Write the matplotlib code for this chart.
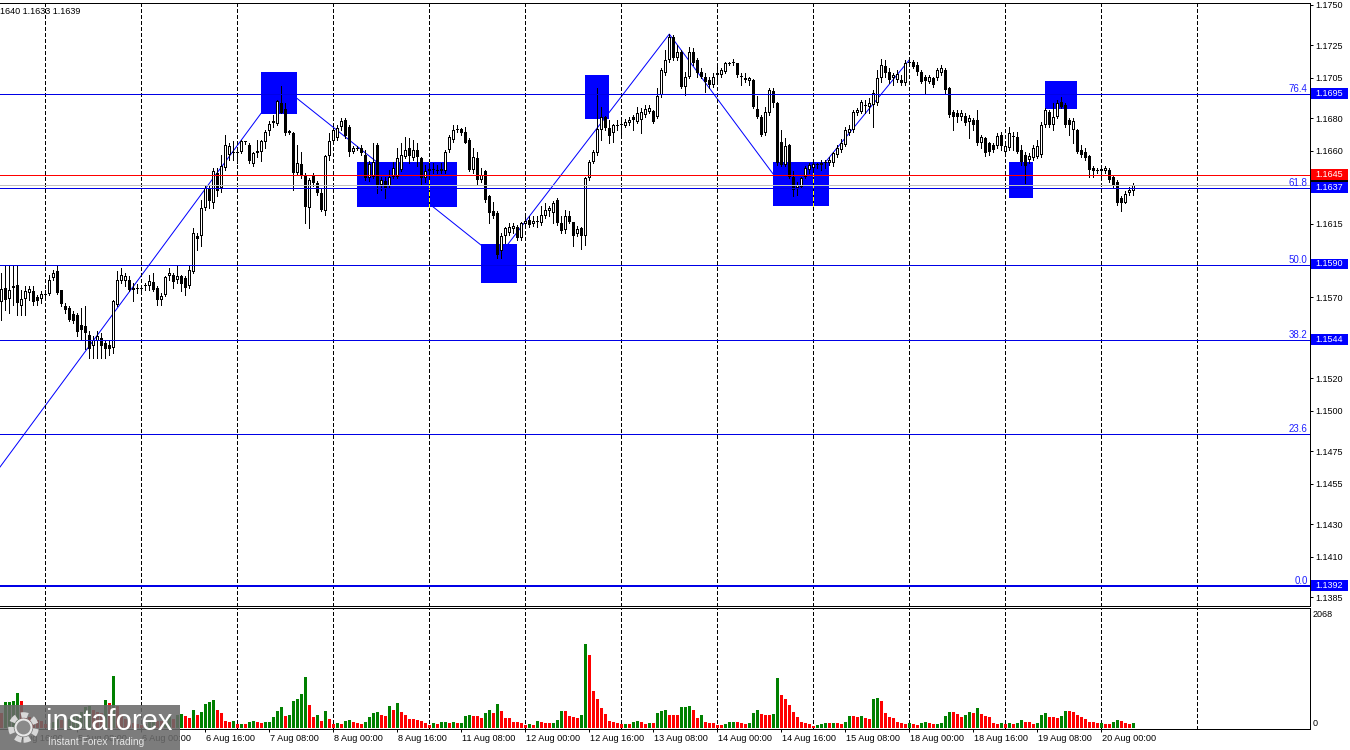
import matplotlib
matplotlib.use("Agg")
import matplotlib.pyplot as plt
from matplotlib.patches import Rectangle, Circle
from matplotlib.transforms import blended_transform_factory, offset_copy
import numpy as np

plt.rcParams['font.family'] = ['Liberation Sans', 'DejaVu Sans']

# ---------------- data (EURUSD H1, one value per bar) ----------------
bar_open = [
    1.15670, 1.15756, 1.15688, 1.15770, 1.15772, 1.15643, 1.15690, 1.15725, 1.15739, 1.15698,
    1.15690, 1.15715, 1.15719, 1.15817, 1.15858, 1.15741, 1.15647, 1.15633, 1.15596, 1.15592,
    1.15530, 1.15520, 1.15469, 1.15397, 1.15428, 1.15448, 1.15418, 1.15403, 1.15387, 1.15653,
    1.15797, 1.15797, 1.15807, 1.15756, 1.15754, 1.15750, 1.15766, 1.15766, 1.15793, 1.15754,
    1.15680, 1.15715, 1.15828, 1.15838, 1.15807, 1.15832, 1.15817, 1.15766, 1.15854, 1.16078,
    1.16074, 1.16248, 1.16371, 1.16279, 1.16463, 1.16371, 1.16494, 1.16576, 1.16596, 1.16586,
    1.16596, 1.16652, 1.16637, 1.16520, 1.16586, 1.16596, 1.16652, 1.16723, 1.16771, 1.16766,
    1.16894, 1.16857, 1.16725, 1.16713, 1.16463, 1.16520, 1.16453, 1.16248, 1.16449, 1.16402,
    1.16340, 1.16227, 1.16566, 1.16658, 1.16678, 1.16750, 1.16791, 1.16750, 1.16596, 1.16617,
    1.16617, 1.16576, 1.16432, 1.16442, 1.16637, 1.16391, 1.16412, 1.16381, 1.16442, 1.16442,
    1.16483, 1.16565, 1.16616, 1.16555, 1.16606, 1.16555, 1.16432, 1.16473, 1.16487, 1.16483,
    1.16479, 1.16473, 1.16606, 1.16667, 1.16729, 1.16733, 1.16719, 1.16667, 1.16483, 1.16555,
    1.16422, 1.16473, 1.16319, 1.16227, 1.16216, 1.15981, 1.16073, 1.16094, 1.16118, 1.16134,
    1.16063, 1.16151, 1.16175, 1.16151, 1.16165, 1.16155, 1.16200, 1.16227, 1.16216, 1.16299,
    1.16155, 1.16114, 1.16196, 1.16159, 1.16089, 1.16124, 1.16073, 1.16432, 1.16534, 1.16585,
    1.16729, 1.16807, 1.16739, 1.16709, 1.16755, 1.16760, 1.16754, 1.16774, 1.16811, 1.16780,
    1.16790, 1.16821, 1.16842, 1.16846, 1.16807, 1.16944, 1.17078, 1.17160, 1.17303, 1.17170,
    1.17211, 1.16995, 1.17057, 1.17211, 1.17160, 1.17088, 1.17057, 1.17037, 1.17006, 1.17067,
    1.17067, 1.17088, 1.17137, 1.17139, 1.17139, 1.17063, 1.17047, 1.17033, 1.17037, 1.16856,
    1.16811, 1.16708, 1.16832, 1.16971, 1.16893, 1.16657, 1.16514, 1.16637, 1.16442, 1.16370,
    1.16380, 1.16442, 1.16483, 1.16493, 1.16517, 1.16514, 1.16524, 1.16524, 1.16524, 1.16575,
    1.16606, 1.16637, 1.16708, 1.16729, 1.16832, 1.16842, 1.16880, 1.16872, 1.16883, 1.16893,
    1.17047, 1.17123, 1.17088, 1.17047, 1.17037, 1.17037, 1.17016, 1.17139, 1.17149, 1.17129,
    1.17088, 1.17053, 1.17026, 1.17047, 1.17047, 1.17078, 1.17098, 1.16985, 1.16842, 1.16832,
    1.16811, 1.16815, 1.16780, 1.16790, 1.16790, 1.16647, 1.16678, 1.16647, 1.16637, 1.16627,
    1.16698, 1.16596, 1.16616, 1.16692, 1.16688, 1.16606, 1.16575, 1.16545, 1.16555, 1.16561,
    1.16575, 1.16760, 1.16842, 1.16760, 1.16811, 1.16903, 1.16883, 1.16790, 1.16729, 1.16729,
    1.16606, 1.16596, 1.16569, 1.16493, 1.16475, 1.16473, 1.16473, 1.16483, 1.16438, 1.16411,
    1.16309, 1.16282, 1.16340, 1.16350,
]
bar_high = [
    1.15848, 1.15899, 1.15899, 1.15899, 1.15889, 1.15746, 1.15770, 1.15766, 1.15766, 1.15715,
    1.15735, 1.15746, 1.15838, 1.15868, 1.15889, 1.15746, 1.15664, 1.15643, 1.15612, 1.15602,
    1.15633, 1.15643, 1.15489, 1.15458, 1.15489, 1.15479, 1.15438, 1.15438, 1.15684, 1.15858,
    1.15879, 1.15848, 1.15828, 1.15787, 1.15782, 1.15776, 1.15787, 1.15838, 1.15848, 1.15766,
    1.15725, 1.15828, 1.15879, 1.15848, 1.15899, 1.15838, 1.15828, 1.15899, 1.16125, 1.16094,
    1.16299, 1.16391, 1.16391, 1.16494, 1.16494, 1.16576, 1.16699, 1.16648, 1.16658, 1.16611,
    1.16668, 1.16658, 1.16648, 1.16596, 1.16668, 1.16668, 1.16730, 1.16781, 1.16822, 1.16914,
    1.17000, 1.16894, 1.16730, 1.16719, 1.16637, 1.16596, 1.16463, 1.16432, 1.16463, 1.16412,
    1.16371, 1.16576, 1.16709, 1.16740, 1.16760, 1.16801, 1.16801, 1.16760, 1.16631, 1.16631,
    1.16637, 1.16607, 1.16535, 1.16647, 1.16647, 1.16442, 1.16442, 1.16483, 1.16534, 1.16616,
    1.16647, 1.16688, 1.16678, 1.16667, 1.16647, 1.16565, 1.16514, 1.16524, 1.16524, 1.16514,
    1.16524, 1.16606, 1.16698, 1.16760, 1.16760, 1.16739, 1.16749, 1.16678, 1.16616, 1.16596,
    1.16493, 1.16483, 1.16329, 1.16288, 1.16227, 1.16094, 1.16134, 1.16155, 1.16155, 1.16145,
    1.16165, 1.16196, 1.16196, 1.16196, 1.16196, 1.16258, 1.16278, 1.16258, 1.16294, 1.16309,
    1.16196, 1.16237, 1.16227, 1.16165, 1.16139, 1.16134, 1.16442, 1.16544, 1.16606, 1.16985,
    1.16873, 1.16815, 1.16790, 1.16766, 1.16790, 1.16790, 1.16795, 1.16807, 1.16821, 1.16873,
    1.16862, 1.16883, 1.16883, 1.16852, 1.16985, 1.17108, 1.17221, 1.17319, 1.17313, 1.17252,
    1.17221, 1.17088, 1.17242, 1.17231, 1.17170, 1.17108, 1.17078, 1.17057, 1.17078, 1.17139,
    1.17108, 1.17149, 1.17149, 1.17164, 1.17143, 1.17078, 1.17078, 1.17057, 1.17041, 1.16938,
    1.16821, 1.16872, 1.16985, 1.16985, 1.16903, 1.16729, 1.16678, 1.16643, 1.16473, 1.16411,
    1.16442, 1.16504, 1.16524, 1.16534, 1.16528, 1.16545, 1.16545, 1.16565, 1.16596, 1.16637,
    1.16672, 1.16745, 1.16760, 1.16852, 1.16862, 1.16913, 1.16913, 1.16924, 1.16975, 1.17098,
    1.17164, 1.17160, 1.17108, 1.17078, 1.17098, 1.17067, 1.17160, 1.17160, 1.17160, 1.17149,
    1.17098, 1.17067, 1.17067, 1.17057, 1.17108, 1.17129, 1.17108, 1.16995, 1.16852, 1.16852,
    1.16852, 1.16832, 1.16821, 1.16801, 1.16852, 1.16698, 1.16684, 1.16657, 1.16647, 1.16708,
    1.16719, 1.16637, 1.16750, 1.16719, 1.16719, 1.16637, 1.16596, 1.16586, 1.16637, 1.16668,
    1.16780, 1.16862, 1.16852, 1.16893, 1.16913, 1.16934, 1.16893, 1.16801, 1.16801, 1.16733,
    1.16637, 1.16616, 1.16575, 1.16504, 1.16493, 1.16504, 1.16504, 1.16493, 1.16446, 1.16421,
    1.16319, 1.16350, 1.16380, 1.16400,
]
bar_low = [
    1.15561, 1.15623, 1.15602, 1.15653, 1.15592, 1.15592, 1.15592, 1.15684, 1.15653, 1.15653,
    1.15664, 1.15694, 1.15715, 1.15807, 1.15721, 1.15643, 1.15602, 1.15551, 1.15541, 1.15458,
    1.15438, 1.15377, 1.15325, 1.15325, 1.15325, 1.15325, 1.15325, 1.15346, 1.15356, 1.15643,
    1.15787, 1.15766, 1.15735, 1.15674, 1.15725, 1.15735, 1.15746, 1.15746, 1.15735, 1.15653,
    1.15653, 1.15705, 1.15807, 1.15756, 1.15787, 1.15735, 1.15715, 1.15756, 1.15848, 1.15992,
    1.16012, 1.16238, 1.16248, 1.16248, 1.16320, 1.16344, 1.16484, 1.16545, 1.16545, 1.16525,
    1.16586, 1.16643, 1.16525, 1.16504, 1.16565, 1.16535, 1.16617, 1.16699, 1.16750, 1.16760,
    1.16832, 1.16699, 1.16705, 1.16361, 1.16453, 1.16432, 1.16156, 1.16125, 1.16385, 1.16330,
    1.16227, 1.16207, 1.16545, 1.16648, 1.16668, 1.16730, 1.16678, 1.16566, 1.16586, 1.16607,
    1.16576, 1.16422, 1.16412, 1.16432, 1.16340, 1.16360, 1.16309, 1.16370, 1.16432, 1.16432,
    1.16473, 1.16555, 1.16524, 1.16544, 1.16504, 1.16391, 1.16411, 1.16442, 1.16463, 1.16463,
    1.16463, 1.16463, 1.16596, 1.16657, 1.16719, 1.16698, 1.16647, 1.16473, 1.16463, 1.16391,
    1.16411, 1.16288, 1.16155, 1.16186, 1.15940, 1.15940, 1.16032, 1.16083, 1.16094, 1.16053,
    1.16053, 1.16134, 1.16134, 1.16139, 1.16134, 1.16145, 1.16186, 1.16196, 1.16155, 1.16145,
    1.16094, 1.16094, 1.16155, 1.16016, 1.16073, 1.15995, 1.16022, 1.16422, 1.16524, 1.16575,
    1.16667, 1.16729, 1.16647, 1.16657, 1.16729, 1.16688, 1.16750, 1.16760, 1.16729, 1.16770,
    1.16713, 1.16811, 1.16831, 1.16770, 1.16801, 1.16934, 1.17067, 1.17149, 1.17160, 1.17160,
    1.16985, 1.16944, 1.17047, 1.17129, 1.17057, 1.17047, 1.16965, 1.16985, 1.16995, 1.17016,
    1.17057, 1.17078, 1.17129, 1.17129, 1.17057, 1.17006, 1.17026, 1.17006, 1.16862, 1.16801,
    1.16692, 1.16698, 1.16821, 1.16872, 1.16514, 1.16504, 1.16504, 1.16432, 1.16319, 1.16329,
    1.16370, 1.16432, 1.16462, 1.16483, 1.16493, 1.16483, 1.16493, 1.16514, 1.16504, 1.16565,
    1.16596, 1.16627, 1.16698, 1.16719, 1.16821, 1.16832, 1.16832, 1.16832, 1.16750, 1.16883,
    1.17026, 1.17057, 1.17016, 1.17006, 1.17026, 1.17006, 1.17006, 1.17129, 1.17108, 1.17067,
    1.17016, 1.16955, 1.17016, 1.16995, 1.17037, 1.17067, 1.16955, 1.16811, 1.16729, 1.16780,
    1.16790, 1.16760, 1.16678, 1.16729, 1.16637, 1.16616, 1.16569, 1.16575, 1.16596, 1.16616,
    1.16606, 1.16586, 1.16606, 1.16606, 1.16586, 1.16514, 1.16401, 1.16524, 1.16545, 1.16555,
    1.16565, 1.16750, 1.16750, 1.16729, 1.16801, 1.16862, 1.16750, 1.16698, 1.16647, 1.16586,
    1.16565, 1.16545, 1.16442, 1.16442, 1.16462, 1.16442, 1.16462, 1.16411, 1.16370, 1.16268,
    1.16227, 1.16278, 1.16329, 1.16330,
]
bar_close = [
    1.15752, 1.15684, 1.15746, 1.15754, 1.15664, 1.15688, 1.15739, 1.15750, 1.15670, 1.15674,
    1.15719, 1.15719, 1.15807, 1.15848, 1.15725, 1.15657, 1.15618, 1.15561, 1.15555, 1.15483,
    1.15495, 1.15479, 1.15381, 1.15438, 1.15458, 1.15397, 1.15381, 1.15381, 1.15674, 1.15807,
    1.15838, 1.15832, 1.15746, 1.15746, 1.15750, 1.15754, 1.15776, 1.15797, 1.15746, 1.15684,
    1.15709, 1.15821, 1.15848, 1.15791, 1.15832, 1.15780, 1.15756, 1.15868, 1.16094, 1.16057,
    1.16248, 1.16371, 1.16289, 1.16477, 1.16350, 1.16508, 1.16637, 1.16631, 1.16586, 1.16590,
    1.16658, 1.16656, 1.16535, 1.16586, 1.16602, 1.16658, 1.16719, 1.16766, 1.16781, 1.16904,
    1.16836, 1.16713, 1.16713, 1.16463, 1.16525, 1.16443, 1.16254, 1.16418, 1.16402, 1.16340,
    1.16234, 1.16566, 1.16658, 1.16730, 1.16740, 1.16781, 1.16689, 1.16590, 1.16617, 1.16613,
    1.16586, 1.16432, 1.16520, 1.16534, 1.16391, 1.16422, 1.16364, 1.16442, 1.16493, 1.16555,
    1.16575, 1.16606, 1.16569, 1.16606, 1.16565, 1.16432, 1.16473, 1.16487, 1.16483, 1.16479,
    1.16487, 1.16596, 1.16684, 1.16729, 1.16733, 1.16709, 1.16651, 1.16483, 1.16565, 1.16422,
    1.16452, 1.16299, 1.16216, 1.16200, 1.15960, 1.16077, 1.16124, 1.16134, 1.16139, 1.16063,
    1.16155, 1.16171, 1.16145, 1.16171, 1.16169, 1.16206, 1.16237, 1.16247, 1.16282, 1.16155,
    1.16104, 1.16196, 1.16165, 1.16073, 1.16118, 1.16073, 1.16432, 1.16534, 1.16596, 1.16733,
    1.16811, 1.16739, 1.16692, 1.16760, 1.16762, 1.16766, 1.16780, 1.16790, 1.16790, 1.16831,
    1.16842, 1.16856, 1.16862, 1.16780, 1.16938, 1.17098, 1.17160, 1.17303, 1.17170, 1.17211,
    1.16995, 1.17057, 1.17211, 1.17139, 1.17078, 1.17057, 1.17026, 1.17006, 1.17057, 1.17078,
    1.17098, 1.17139, 1.17141, 1.17147, 1.17067, 1.17057, 1.17037, 1.17047, 1.16873, 1.16811,
    1.16698, 1.16842, 1.16975, 1.16893, 1.16524, 1.16514, 1.16631, 1.16442, 1.16360, 1.16391,
    1.16432, 1.16493, 1.16514, 1.16520, 1.16514, 1.16528, 1.16534, 1.16545, 1.16586, 1.16620,
    1.16647, 1.16729, 1.16733, 1.16842, 1.16852, 1.16903, 1.16877, 1.16897, 1.16955, 1.17047,
    1.17129, 1.17078, 1.17037, 1.17067, 1.17073, 1.17016, 1.17139, 1.17143, 1.17118, 1.17088,
    1.17026, 1.17032, 1.17057, 1.17006, 1.17098, 1.17108, 1.16975, 1.16821, 1.16811, 1.16811,
    1.16832, 1.16770, 1.16801, 1.16760, 1.16647, 1.16684, 1.16586, 1.16596, 1.16606, 1.16692,
    1.16627, 1.16631, 1.16708, 1.16688, 1.16596, 1.16534, 1.16504, 1.16569, 1.16616, 1.16627,
    1.16760, 1.16852, 1.16760, 1.16811, 1.16897, 1.16868, 1.16760, 1.16760, 1.16786, 1.16596,
    1.16575, 1.16555, 1.16483, 1.16473, 1.16473, 1.16487, 1.16493, 1.16421, 1.16381, 1.16278,
    1.16282, 1.16335, 1.16360, 1.16390,
]
tick_volume = [
    280, 475, 480, 485, 645, 500, 250, 200, 180, 150,
    120, 70, 90, 110, 160, 150, 130, 170, 200, 260,
    300, 390, 400, 320, 300, 280, 510, 460, 950, 400,
    250, 160, 140, 100, 80, 60, 80, 110, 150, 130,
    120, 170, 200, 170, 240, 255, 219, 176, 328, 237,
    292, 438, 474, 511, 328, 268, 128, 116, 128, 73,
    80, 70, 109, 128, 109, 97, 109, 112, 207, 316,
    377, 219, 237, 499, 535, 620, 924, 413, 207, 237,
    134, 310, 170, 73, 85, 82, 122, 146, 109, 91,
    73, 109, 195, 280, 292, 231, 225, 401, 328, 450,
    286, 243, 170, 158, 146, 134, 85, 55, 85, 73,
    109, 110, 100, 109, 85, 86, 219, 237, 219, 218,
    182, 274, 328, 273, 438, 310, 182, 181, 109, 108,
    85, 55, 73, 55, 128, 109, 91, 90, 92, 146,
    310, 309, 219, 200, 188, 237, 1532, 1332, 675, 523,
    365, 255, 128, 109, 91, 73, 74, 72, 109, 128,
    109, 73, 91, 90, 274, 310, 328, 237, 236, 235,
    383, 384, 401, 328, 182, 237, 109, 91, 90, 55,
    54, 73, 109, 110, 109, 91, 73, 91, 274, 328,
    255, 237, 236, 255, 912, 602, 529, 420, 292, 200,
    109, 91, 73, 36, 55, 73, 91, 90, 92, 89,
    73, 109, 219, 218, 200, 219, 182, 164, 529, 547,
    492, 274, 200, 182, 109, 91, 73, 91, 73, 55,
    91, 109, 91, 73, 74, 91, 219, 292, 291, 255,
    200, 237, 292, 280, 365, 255, 219, 200, 91, 73,
    91, 73, 91, 73, 91, 146, 109, 108, 73, 91,
    237, 274, 200, 199, 182, 219, 310, 309, 292, 237,
    200, 164, 109, 108, 91, 92, 73, 72, 109, 146,
    128, 91, 73, 91,
]

time_labels = ["4 Aug 16:00", "5 Aug 08:00", "6 Aug 00:00", "6 Aug 16:00",
               "7 Aug 08:00", "8 Aug 00:00", "8 Aug 16:00", "11 Aug 08:00",
               "12 Aug 00:00", "12 Aug 16:00", "13 Aug 08:00", "14 Aug 00:00",
               "14 Aug 16:00", "15 Aug 08:00", "18 Aug 00:00", "18 Aug 16:00",
               "19 Aug 08:00", "20 Aug 00:00"]
time_label_bars = [3, 19, 35, 51, 67, 83, 99, 115, 131, 147, 163, 179,
                   195, 211, 227, 243, 259, 275]
grid_bars = [11, 35, 59, 83, 107, 131, 155, 179, 203, 227, 251, 275, 299]

price_ticks = [1.1750, 1.1725, 1.1705, 1.1680, 1.1660, 1.1635, 1.1615, 1.1590,
               1.1570, 1.1545, 1.1520, 1.1500, 1.1475, 1.1455, 1.1430, 1.1410, 1.1385]
hidden_tick_labels = [1.1635, 1.1590, 1.1545]   # covered by the level tags

fib_prices = [1.1392, 1.14856, 1.15435, 1.1590, 1.16371, 1.1695]
fib_names = ["0.0", "23.6", "38.2", "50.0", "61.8", "76.4"]
fib_tags = ["1.1392", "", "1.1544", "1.1590", "1.1637", "1.1695"]
level_red = 1.1645
bid_price = 1.1639
header_text = "1640 1.1633 1.1639"
volume_scale_max = 2068

zone_start = [64.9, 88.9, 119.9, 145.9, 192.9, 251.9, 260.9]
zone_end = [73.9, 113.9, 128.9, 151.9, 206.9, 257.9, 268.9]
zone_top = [1.17086, 1.16531, 1.16027, 1.17067, 1.16531, 1.16531, 1.17030]
zone_bottom = [1.16827, 1.16254, 1.15787, 1.16798, 1.16260, 1.16310, 1.16855]

zigzag_bars = [-22.3, 70, 124, 167, 198, 227]
zigzag_prices = [1.1392, 1.1700, 1.1594, 1.17319, 1.1629, 1.1716]

# ---------------- layout (pixels) ----------------
W, H = 1350, 750
RIGHT = 1309.5
MAIN_TOP, MAIN_BOT = 2.5, 605.5
VOL_TOP, VOL_BOT = 607.5, 729.0
BAR_PX, BAR0_PX = 4.0, 1.3
PX_PER_PRICE = 16240.0
REF_PRICE, REF_Y = 1.1750, 4.7
VOL_ZERO_Y = 728.0
VOL_PER_PX = volume_scale_max / (VOL_ZERO_Y - 614.7)
LW = 0.72   # one pixel
PX = 1.0 / PX_PER_PRICE

BLUE = '#0000ff'
FS = 6.5

fig = plt.figure(figsize=(W / 100, H / 100), dpi=100)
fig.patch.set_facecolor('white')
ax = fig.add_axes([0, 1 - MAIN_BOT / H, RIGHT / W, (MAIN_BOT - MAIN_TOP) / H])
axv = fig.add_axes([0, 1 - VOL_BOT / H, RIGHT / W, (VOL_BOT - VOL_TOP) / H])

xlim = ((0 - BAR0_PX) / BAR_PX, (RIGHT - BAR0_PX) / BAR_PX)
ax.set_xlim(*xlim)
axv.set_xlim(*xlim)
ax.set_ylim(REF_PRICE - (MAIN_BOT - REF_Y) * PX, REF_PRICE + (REF_Y - MAIN_TOP) * PX)
axv.set_ylim(-(VOL_BOT - VOL_ZERO_Y) * VOL_PER_PX, (VOL_ZERO_Y - VOL_TOP) * VOL_PER_PX)

for a in (ax, axv):
    a.set_facecolor('white')
    a.spines['left'].set_visible(False)
    for s in ('top', 'right', 'bottom'):
        a.spines[s].set_linewidth(LW)
        a.spines[s].set_color('black')
    for g in grid_bars:
        a.axvline(g, color='black', lw=LW, ls=(0, (4.0, 2.5)), zorder=2.5,
                  antialiased=False)

# ---------------- candles ----------------
o = np.array(bar_open)
h = np.array(bar_high)
l = np.array(bar_low)
c = np.array(bar_close)
idx = np.arange(len(c))
up = c >= o
body_lo = np.minimum(o, c)
body_hi = np.maximum(o, c)
ax.vlines(idx, l, h, color='black', lw=LW, zorder=3, antialiased=False)
outer_h = np.maximum(body_hi - body_lo, PX)
ax.bar(idx, outer_h, bottom=body_lo, width=0.75, color='black', linewidth=0,
       zorder=4, antialiased=False)
inner_h = body_hi - body_lo - 2 * PX
mask = up & (inner_h > 0)
ax.bar(idx[mask], inner_h[mask], bottom=body_lo[mask] + PX, width=0.25, color='white',
       linewidth=0, zorder=4.5, antialiased=False)

# zones
for s, e, t, b in zip(zone_start, zone_end, zone_top, zone_bottom):
    ax.add_patch(Rectangle((s, b), e - s, t - b, facecolor=BLUE, edgecolor='none',
                           zorder=2))
    for g in grid_bars:
        if s <= g <= e:
            ax.vlines(g, b, t, color='#ffff00', lw=LW, linestyles=(0, (4.0, 2.5)),
                      zorder=2.6, antialiased=False)

# zigzag
ax.plot(zigzag_bars, zigzag_prices, color=BLUE, lw=LW, zorder=1.5)

# horizontal levels
for p, name in zip(fib_prices, fib_names):
    ax.axhline(p, color='#0000e6', lw=1.44 if name == "0.0" else LW, zorder=5,
               antialiased=False)
ax.axhline(bid_price, color='#c0c0c0', lw=LW, zorder=5, antialiased=False)
ax.axhline(level_red, color='#ff0000', lw=LW, zorder=5.1, antialiased=False)

trans_ay = blended_transform_factory(ax.transAxes, ax.transData)
for p, name in zip(fib_prices, fib_names):
    ax.text(1307.7 / RIGHT, p, name, color='#2020ff', fontsize=7, ha='right',
            va='baseline', transform=offset_copy(trans_ay, fig=fig, y=2.0, units='dots'),
            zorder=6)

# right price axis
ax.yaxis.tick_right()
ax.set_yticks(price_ticks)
ax.set_yticklabels(["" if t in hidden_tick_labels else f"{t:.4f}" for t in price_ticks])
ax.tick_params(axis='y', direction='out', length=2.5, width=LW, pad=2,
               labelsize=FS, colors='black')
ax.set_xticks([])


def price_tag(price, text, color, z):
    ax.add_patch(Rectangle((1311 / RIGHT, price - 4.5 * PX), 37 / RIGHT, 10.5 * PX,
                           transform=trans_ay, facecolor=color, edgecolor='none',
                           clip_on=False, zorder=z))
    if text:
        ax.text(1329.5 / RIGHT, price + 0.6 * PX, text, transform=trans_ay,
                color='white', fontsize=FS, ha='center', va='center', clip_on=False,
                zorder=z + 0.1)


price_tag(bid_price, "", 'black', 10)   # bid tag: its text is covered in the chart
for p, t in zip(fib_prices, fib_tags):
    if t:
        price_tag(p, t, BLUE, 11)
price_tag(level_red, f"{level_red:.4f}", '#ff0000', 11.5)

# ---------------- volumes ----------------
vol = np.array(tick_volume, dtype=float)
prev = np.concatenate([[np.inf], vol[:-1]])
vcol = np.where(vol > prev, '#008000', '#ff0000')
axv.bar(idx, vol, width=0.72, color=vcol, linewidth=0, zorder=3, antialiased=False)
axv.set_yticks([])
trans_vy = blended_transform_factory(axv.transAxes, axv.transData)
axv.text(1313 / RIGHT, volume_scale_max, str(volume_scale_max), transform=trans_vy,
         fontsize=FS, ha='left', va='center', clip_on=False)
axv.text(1313 / RIGHT, 0, "0", transform=offset_copy(trans_vy, fig=fig, y=5, units='dots'),
         fontsize=FS, ha='left', va='center', clip_on=False)

axv.set_xticks(time_label_bars)
axv.set_xticklabels([])
axv.tick_params(axis='x', direction='out', length=2.5, width=LW)
trans_xl = offset_copy(blended_transform_factory(axv.transData, axv.transAxes),
                       fig=fig, x=1, y=-9.3, units='dots')
for b, t in zip(time_label_bars, time_labels):
    axv.text(b, 0, t, transform=trans_xl, fontsize=6.6, ha='left', va='center',
             clip_on=False)

# header
fig.text(0, 1 - 11 / H, header_text, fontsize=FS, ha='left', va='center')

# watermark
inch = fig.dpi_scale_trans
fig.patches.append(Rectangle((0, 0), 1.80, 0.45, transform=inch, facecolor='#6a6a6a',
                             alpha=0.88, edgecolor='none', zorder=20))
fig.patches.append(Circle((0.235, 0.225), 0.125, transform=inch, facecolor='none',
                          edgecolor='#d8d8d8', lw=4, ls=(0, (1.2, 0.9)), zorder=21))
fig.patches.append(Circle((0.235, 0.225), 0.08, transform=inch, facecolor='#8a8a8a',
                          edgecolor='#e8e8e8', lw=1.5, zorder=21))
fig.text(0.46 / 13.5, 0.285 / 7.5, "instaforex", color='white', fontsize=21,
         ha='left', va='center', zorder=22)
fig.text(0.48 / 13.5, 0.08 / 7.5, "Instant Forex Trading", color='#e6e6e6',
         fontsize=7.3, ha='left', va='center', zorder=22)

fig.savefig("out.png", dpi=100, facecolor='white')
